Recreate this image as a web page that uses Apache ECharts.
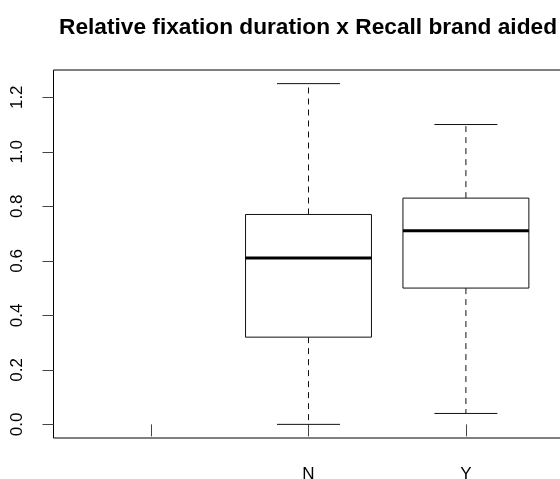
<!DOCTYPE html>
<html>
<head>
<meta charset="utf-8">
<script src="https://cdn.jsdelivr.net/npm/echarts@6/dist/echarts.min.js"></script>
<style>html,body{margin:0;padding:0;background:#fff;}#c{width:560px;height:479px;}</style>
</head>
<body>
<div id="c"></div>
<script>
const titleText = 'Relative fixation duration x Recall brand aided';
const categories = ['', 'N', 'Y'];
const mins    = [null, 0.00, 0.04];
const q1s     = [null, 0.32, 0.50];
const medians = [null, 0.61, 0.71];
const q3s     = [null, 0.77, 0.83];
const maxs    = [null, 1.25, 1.10];
const yTicks  = [0, 0.2, 0.4, 0.6, 0.8, 1.0, 1.2];

const data = [];
categories.forEach((c, i) => {
  if (medians[i] !== null) data.push([i + 1, mins[i], q1s[i], medians[i], q3s[i], maxs[i]]);
});
const catPos = categories.map((c, i) => i + 1);

const chart = echarts.init(document.getElementById('c'), null, {renderer: 'canvas'});
const lineColor = '#111';
chart.setOption({
  animation: false,
  backgroundColor: '#fff',
  title: {
    text: titleText,
    left: 303,
    top: 11,
    textAlign: 'center',
    textStyle: {fontFamily: 'Liberation Sans', fontWeight: 'bold', fontSize: 22.7, color: '#000'}
  },
  grid: {left: 53.5, top: 70, width: 510, height: 368, show: true, borderColor: '#000', borderWidth: 1,
    backgroundColor: 'transparent', containLabel: false, outerBoundsMode: 'none'},
  xAxis: {
    type: 'value', min: 0.38, max: 3.62,
    axisLine: {show: false},
    splitLine: {show: false},
    axisTick: {show: true, customValues: catPos, length: 12, lineStyle: {color: '#444', width: 1}},
    axisLabel: {customValues: catPos, margin: 28, fontFamily: 'Liberation Sans', fontSize: 17, color: '#000',
      formatter: v => categories[Math.round(v) - 1] || ''}
  },
  yAxis: {
    type: 'value', min: -0.05, max: 1.30,
    axisLine: {show: false},
    splitLine: {show: false},
    axisTick: {show: true, customValues: yTicks, length: 11, lineStyle: {color: '#444', width: 1}},
    axisLabel: {customValues: yTicks, rotate: 90, margin: 28, fontFamily: 'Liberation Sans', fontSize: 17, color: '#000',
      formatter: v => v.toFixed(1)}
  },
  series: [{
    type: 'custom',
    data: data,
    encode: {x: 0, y: [1, 2, 3, 4, 5]},
    renderItem: function (params, api) {
      const x = api.value(0);
      const pMin = api.coord([x, api.value(1)]);
      const pQ1 = api.coord([x, api.value(2)]);
      const pMed = api.coord([x, api.value(3)]);
      const pQ3 = api.coord([x, api.value(4)]);
      const pMax = api.coord([x, api.value(5)]);
      const bl = api.coord([x - 0.4, 0])[0];
      const br = api.coord([x + 0.4, 0])[0];
      const cl = api.coord([x - 0.2, 0])[0];
      const cr = api.coord([x + 0.2, 0])[0];
      const cx = pMed[0];
      const solid = {stroke: lineColor, lineWidth: 1, fill: null};
      const dashed = {stroke: lineColor, lineWidth: 1, lineDash: [6, 5]};
      return {
        type: 'group',
        children: [
          {type: 'line', shape: {x1: cx, y1: pQ3[1], x2: cx, y2: pMax[1]}, style: dashed},
          {type: 'line', shape: {x1: cx, y1: pQ1[1], x2: cx, y2: pMin[1]}, style: dashed},
          {type: 'line', shape: {x1: cl, y1: pMax[1], x2: cr, y2: pMax[1]}, style: solid},
          {type: 'line', shape: {x1: cl, y1: pMin[1], x2: cr, y2: pMin[1]}, style: solid},
          {type: 'rect', shape: {x: bl, y: pQ3[1], width: br - bl, height: pQ1[1] - pQ3[1]}, style: {stroke: lineColor, lineWidth: 1, fill: '#fff'}},
          {type: 'line', shape: {x1: bl, y1: pMed[1], x2: br, y2: pMed[1]}, style: {stroke: '#000', lineWidth: 3}}
        ]
      };
    }
  }]
});
</script>
</body>
</html>
